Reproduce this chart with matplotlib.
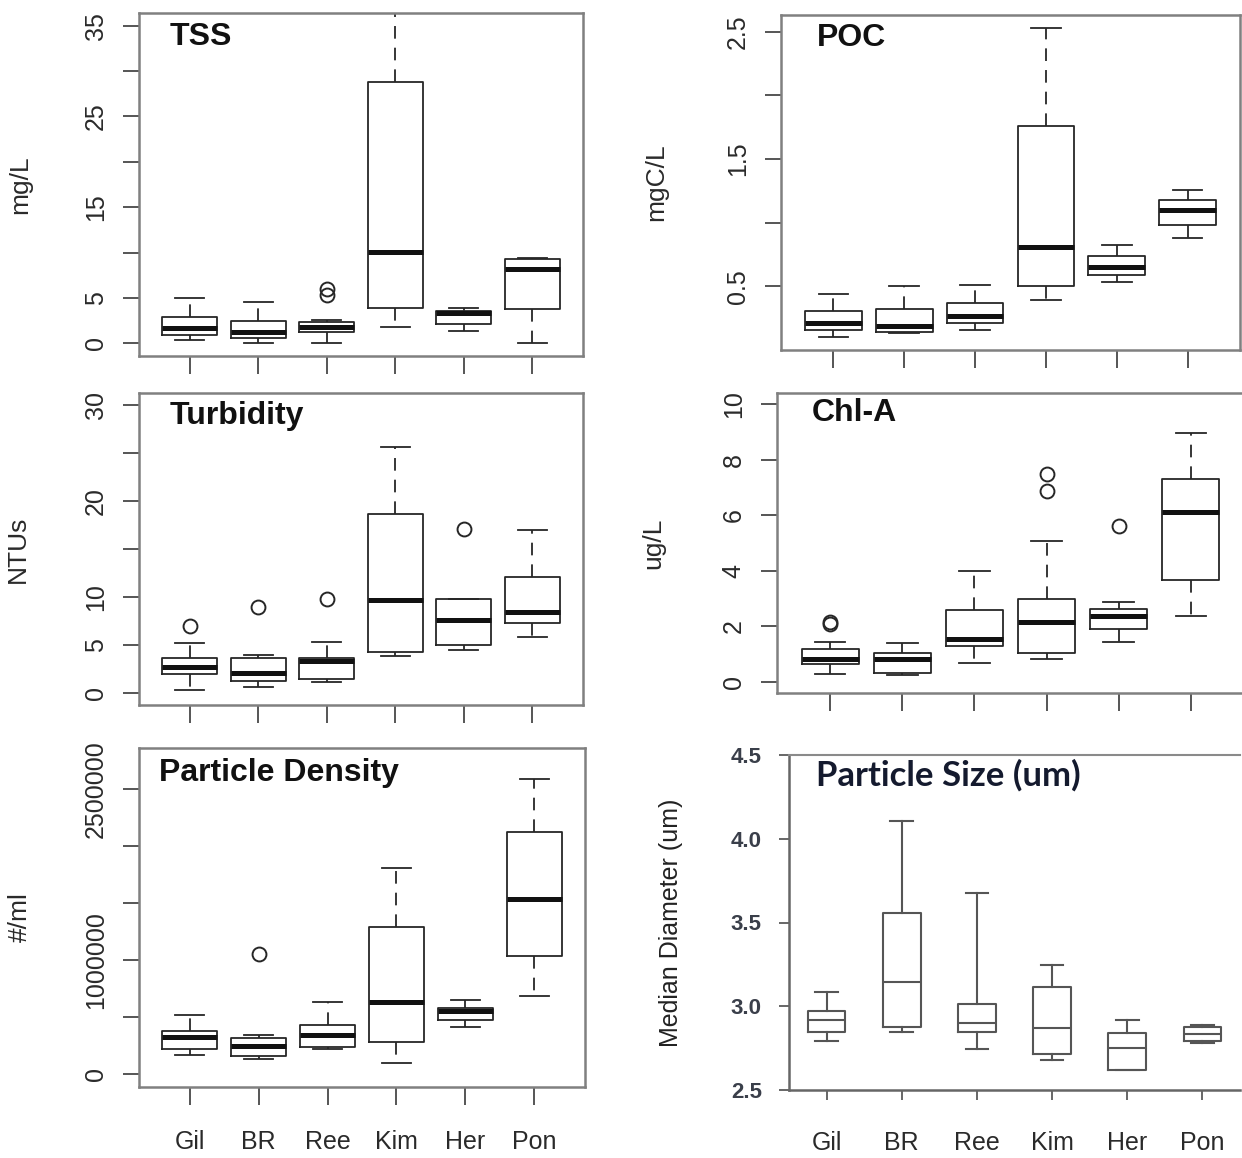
import matplotlib
matplotlib.use("Agg")
import matplotlib.pyplot as plt

W, H = 1242, 1158
plt.rcParams['font.family'] = ['Liberation Sans', 'DejaVu Sans']

sites = ['Gil', 'BR', 'Ree', 'Kim', 'Her', 'Pon']

# TSS (mg/L)
tss_whislo = [0.33, 0.05, 0.0, 1.8, 1.35, 0.0]
tss_q1 = [0.95, 0.6, 1.25, 3.9, 2.15, 3.8]
tss_med = [1.7, 1.3, 1.8, 10.05, 3.3, 8.2]
tss_q3 = [2.9, 2.45, 2.35, 28.75, 3.6, 9.3]
tss_whishi = [5.0, 4.55, 2.6, 40.0, 3.9, 9.45]
tss_fliers = [[], [], [5.3, 6.0], [], [], []]

# POC (mgC/L)
poc_whislo = [0.105, 0.13, 0.16, 0.39, 0.53, 0.88]
poc_q1 = [0.16, 0.14, 0.21, 0.50, 0.59, 0.98]
poc_med = [0.21, 0.19, 0.27, 0.805, 0.65, 1.10]
poc_q3 = [0.31, 0.32, 0.37, 1.76, 0.735, 1.18]
poc_whishi = [0.44, 0.50, 0.51, 2.53, 0.825, 1.26]
poc_fliers = [[], [], [], [], [], []]

# Turbidity (NTUs)
tur_whislo = [0.34, 0.62, 1.14, 3.9, 4.48, 5.86]
tur_q1 = [1.97, 1.31, 1.48, 4.31, 5.07, 7.31]
tur_med = [2.72, 2.17, 3.34, 9.66, 7.59, 8.45]
tur_q3 = [3.69, 3.69, 3.69, 18.6, 9.83, 12.14]
tur_whishi = [5.24, 4.03, 5.34, 25.6, 9.83, 16.97]
tur_fliers = [[7.0], [8.93], [9.83], [], [17.1], []]

# Chl-A (ug/L)
chl_whislo = [0.27, 0.24, 0.67, 0.83, 1.43, 2.38]
chl_q1 = [0.63, 0.33, 1.29, 1.05, 1.90, 3.67]
chl_med = [0.81, 0.83, 1.55, 2.14, 2.36, 6.13]
chl_q3 = [1.19, 1.05, 2.6, 2.98, 2.62, 7.30]
chl_whishi = [1.43, 1.40, 4.0, 5.07, 2.89, 8.96]
chl_fliers = [[2.1, 2.17], [], [], [6.88, 7.5], [5.63], []]

# Particle density (#/ml)
pd_whislo = [169000, 131000, 219000, 102000, 414000, 685000]
pd_q1 = [219000, 160000, 239000, 286000, 481000, 1041000]
pd_med = [327000, 248000, 344000, 636000, 554000, 1536000]
pd_q3 = [379000, 315000, 429000, 1289000, 583000, 2128000]
pd_whishi = [519000, 344000, 636000, 1808000, 656000, 2589000]
pd_fliers = [[], [1058000], [], [], [], []]

# Particle size (median diameter, um)
ps_whislo = [2.795, 2.848, 2.743, 2.679, 2.619, 2.779]
ps_q1 = [2.848, 2.878, 2.848, 2.715, 2.619, 2.795]
ps_med = [2.918, 3.147, 2.898, 2.868, 2.749, 2.834]
ps_q3 = [2.974, 3.559, 3.013, 3.113, 2.838, 2.878]
ps_whishi = [3.087, 4.108, 3.678, 3.246, 2.918, 2.888]

fig = plt.figure(figsize=(W / 100, H / 100), dpi=100)


def add_ax(l, t, r, b):
    return fig.add_axes([l / W, 1 - b / H, (r - l) / W, (b - t) / H])


def stats(lo, q1, med, q3, hi, fl):
    return [dict(whislo=a, q1=b, med=c, q3=d, whishi=e, fliers=f, label=s)
            for a, b, c, d, e, f, s in zip(lo, q1, med, q3, hi, fl, sites)]


LC = '#262626'
FC = '#808080'
TXT = '#2a2a2a'


def r_panel(ax, st, ylim, yticks, ylabels, title, ylab, ylab_x, show_x):
    n = len(st)
    ax.bxp(st, positions=range(1, n + 1), widths=0.8, capwidths=0.42,
           showfliers=True, manage_ticks=False, patch_artist=False,
           boxprops=dict(color=LC, linewidth=1.3),
           whiskerprops=dict(color=LC, linewidth=1.3, linestyle=(0, (7, 5))),
           capprops=dict(color=LC, linewidth=1.3),
           medianprops=dict(color='#111111', linewidth=3.6, solid_capstyle='butt'),
           flierprops=dict(marker='o', markerfacecolor='none',
                           markeredgecolor=LC, markersize=10, markeredgewidth=1.4))
    ax.set_xlim(0.26, n + 0.74)
    ax.set_ylim(*ylim)
    ax.set_yticks(yticks)
    ax.set_yticklabels(ylabels)
    ax.set_xticks(range(1, n + 1))
    if show_x:
        ax.set_xticklabels(sites)
    else:
        ax.set_xticklabels([])
    for sp in ax.spines.values():
        sp.set_color(FC)
        sp.set_linewidth(1.8)
    ax.tick_params(axis='both', direction='out', color='#555555', width=1.4,
                   labelsize=18, labelcolor=TXT)
    ax.tick_params(axis='y', length=11.5, pad=11)
    ax.tick_params(axis='x', length=13, pad=18)
    for lab in ax.get_yticklabels():
        lab.set_rotation(90)
        lab.set_va('center')
    ax.text(0.07, 0.93, title, transform=ax.transAxes, fontsize=23,
            fontweight='bold', color='#111111', ha='left', va='center')
    ax.set_ylabel(ylab, fontsize=19, color=TXT)
    ax.yaxis.set_label_coords(ylab_x, 0.5)


# TSS
ax1 = add_ax(139, 13, 583, 356)
r_panel(ax1, stats(tss_whislo, tss_q1, tss_med, tss_q3, tss_whishi, tss_fliers),
        (-1.4, 36.4), [0, 5, 10, 15, 20, 25, 30, 35],
        ['0', '5', '', '15', '', '25', '', '35'], 'TSS', 'mg/L', -0.24, False)

# POC
ax2 = add_ax(781, 15, 1240, 350)
r_panel(ax2, stats(poc_whislo, poc_q1, poc_med, poc_q3, poc_whishi, poc_fliers),
        (0.0, 2.63), [0.5, 1.0, 1.5, 2.0, 2.5],
        ['0.5', '', '1.5', '', '2.5'], 'POC', 'mgC/L', -0.245, False)
ax2.texts[0].set_x(0.078)

# Turbidity
ax3 = add_ax(139, 393, 583, 705)
r_panel(ax3, stats(tur_whislo, tur_q1, tur_med, tur_q3, tur_whishi, tur_fliers),
        (-1.2, 31.2), [0, 5, 10, 15, 20, 25, 30],
        ['0', '5', '10', '', '20', '', '30'], 'Turbidity', 'NTUs', -0.245, False)
ax3.texts[0].set_position((0.07, 0.925))

# Chl-A
ax4 = add_ax(777, 393, 1244, 693)
r_panel(ax4, stats(chl_whislo, chl_q1, chl_med, chl_q3, chl_whishi, chl_fliers),
        (-0.4, 10.4), [0, 2, 4, 6, 8, 10],
        ['0', '2', '4', '6', '8', '10'], 'Chl-A', 'ug/L', -0.24, False)
ax4.texts[0].set_position((0.075, 0.935))

# Particle density
ax5 = add_ax(139, 748, 585, 1087)
r_panel(ax5, stats(pd_whislo, pd_q1, pd_med, pd_q3, pd_whishi, pd_fliers),
        (-110000, 2860000), [0, 500000, 1000000, 1500000, 2000000, 2500000],
        ['0', '', '1000000', '', '', '2500000'], 'Particle Density', '#/ml', -0.24, True)
ax5.texts[0].set_position((0.045, 0.925))

# Particle size (Excel-style panel)
ax6 = add_ax(789, 755, 1240, 1090)
ps_stats = stats(ps_whislo, ps_q1, ps_med, ps_q3, ps_whishi, [[]] * 6)
PSC = '#555555'
ax6.bxp(ps_stats, positions=range(1, 7), widths=0.5, capwidths=0.3,
        showfliers=False, manage_ticks=False,
        boxprops=dict(color=PSC, linewidth=1.5),
        whiskerprops=dict(color=PSC, linewidth=1.5),
        capprops=dict(color=PSC, linewidth=1.5),
        medianprops=dict(color=PSC, linewidth=1.5))
ax6.set_xlim(0.5, 6.5)
ax6.set_ylim(2.5, 4.5)
ax6.set_yticks([2.5, 3.0, 3.5, 4.0, 4.5])
ax6.set_yticklabels(['2.5', '3.0', '3.5', '4.0', '4.5'])
ax6.set_xticks(range(1, 7))
ax6.set_xticklabels(sites)
ax6.spines['right'].set_visible(False)
ax6.spines['top'].set_color('#8a8a8a')
ax6.spines['top'].set_linewidth(1.5)
for s in ('left', 'bottom'):
    ax6.spines[s].set_color('#666666')
    ax6.spines[s].set_linewidth(1.8)
ax6.tick_params(axis='both', direction='out', color='#666666', width=1.4, length=7.5)
ax6.tick_params(axis='y', labelsize=16, labelcolor='#3a3f4a', pad=12)
ax6.tick_params(axis='x', labelsize=18, labelcolor=TXT, pad=22)
for lab in ax6.get_yticklabels():
    lab.set_fontweight('bold')
ax6.text(0.06, 0.94, 'Particle Size (um)', transform=ax6.transAxes,
         fontsize=25, fontweight='bold', family=['Lato', 'DejaVu Sans'],
         color='#141a2e', ha='left', va='center')
ax6.set_ylabel('Median Diameter (um)', fontsize=18, color='#222222')
ax6.yaxis.set_label_coords(-0.235, 0.5)

fig.savefig('out.png', dpi=100, facecolor='white')
